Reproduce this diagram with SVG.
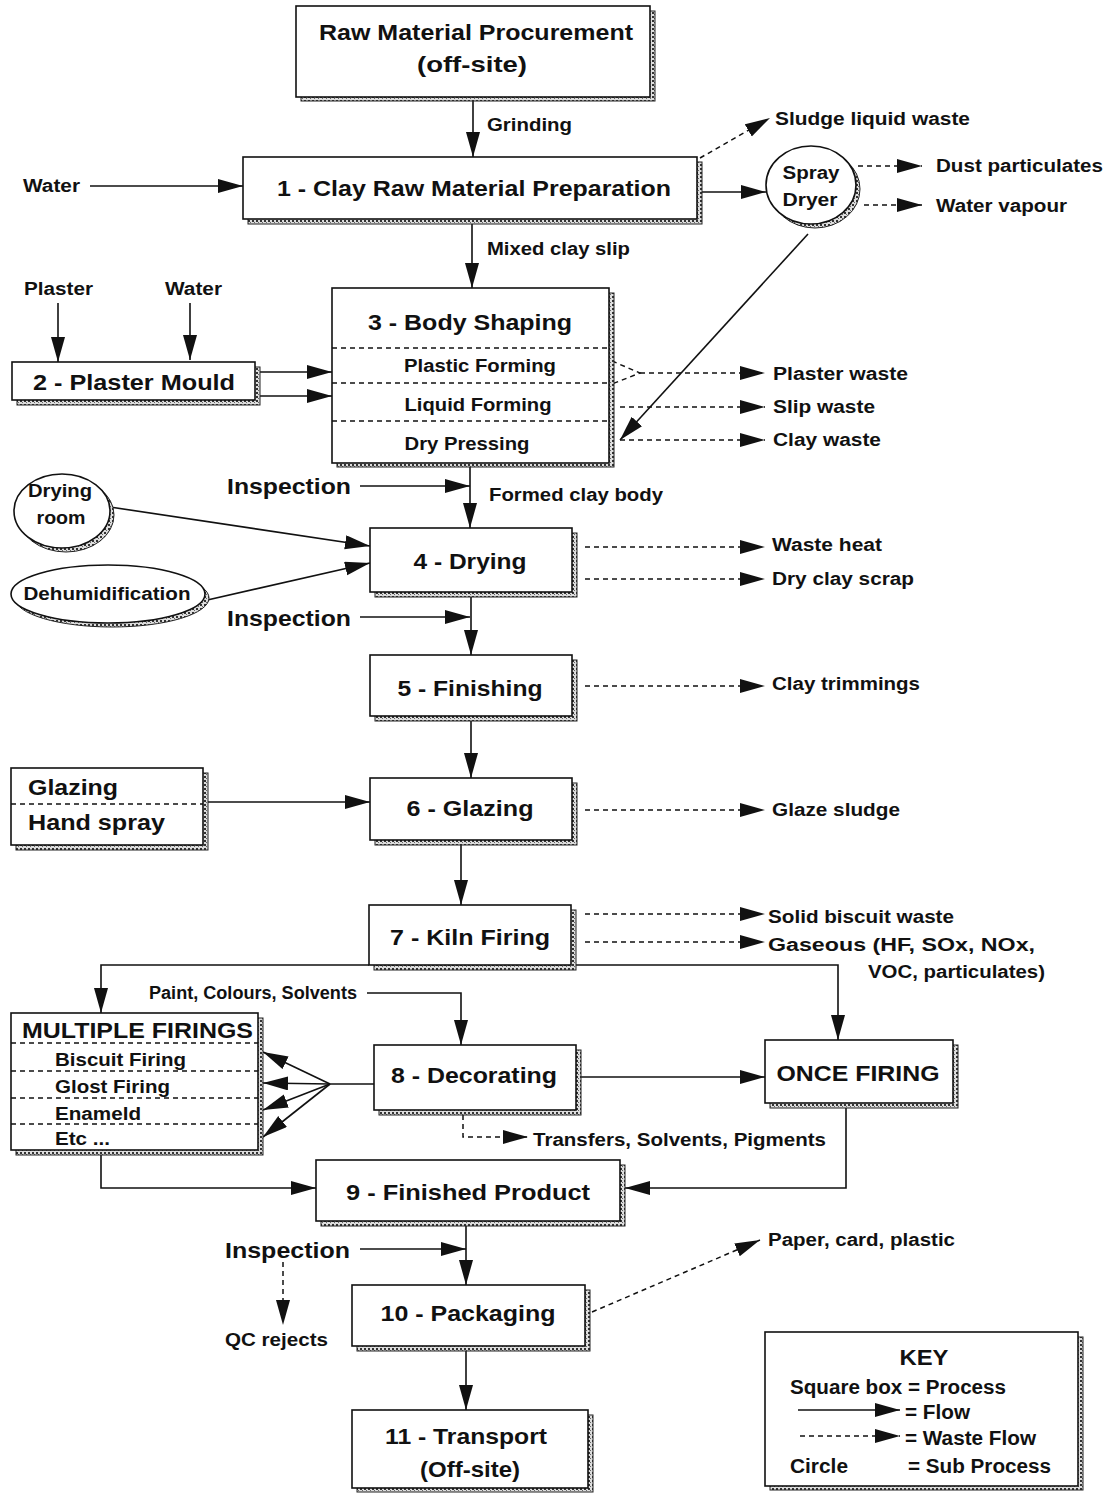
<svg xmlns="http://www.w3.org/2000/svg" width="1114" height="1494" viewBox="0 0 1114 1494">
<style>
.box{fill:#fff;stroke:#111;stroke-width:1.6}
.sh{fill:url(#tex);stroke:#222;stroke-width:1}
.ln{fill:none;stroke:#111;stroke-width:1.6}
.fl{fill:none;stroke:#111;stroke-width:1.6;marker-end:url(#ah)}
.wf{fill:none;stroke:#111;stroke-width:1.5;stroke-dasharray:5,4;marker-end:url(#ah)}
.dl{fill:none;stroke:#111;stroke-width:1.4;stroke-dasharray:5,4}
text{font-family:"Liberation Sans",Arial,sans-serif;font-weight:bold;fill:#111}
.t22{font-size:22px}
.t20{font-size:20px}
.t18{font-size:18px}
.mid{text-anchor:middle}
</style>
<defs>
<pattern id="tex" width="4" height="4" patternUnits="userSpaceOnUse">
<rect width="4" height="4" fill="#ddd"/>
<rect width="2" height="2" fill="#333"/>
<rect x="2" y="2" width="1" height="1" fill="#666"/>
</pattern>
<marker id="ah" markerUnits="userSpaceOnUse" markerWidth="28" markerHeight="16" refX="25" refY="7" orient="auto">
<path d="M0,0 L25,7 L0,14 z" fill="#111"/>
</marker>
</defs>
<rect width="1114" height="1494" fill="#fff"/>

<g id="connectors">
<path class="fl" d="M473,101 V157"/>
<path class="fl" d="M90,186 H243"/>
<path class="fl" d="M701,192 H766"/>
<path class="wf" d="M700,158 L770,118"/>
<path class="wf" d="M858,166 H922"/>
<path class="wf" d="M864,205 H922"/>
<path class="fl" d="M808,234 L620,440"/>
<path class="fl" d="M472,224 V288"/>
<path class="fl" d="M58,303 V362"/>
<path class="fl" d="M190,303 V360"/>
<path class="fl" d="M260,372 H332"/>
<path class="fl" d="M260,396 H332"/>
<path class="dl" d="M612,361 L640,373 L612,384"/>
<path class="wf" d="M640,373 H765"/>
<path class="wf" d="M620,407 H765"/>
<path class="wf" d="M620,440 H765"/>
<path class="fl" d="M360,486 H470"/>
<path class="fl" d="M470,467 V528"/>
<path class="fl" d="M110,507 L370,546"/>
<path class="fl" d="M203,601 L370,563"/>
<path class="wf" d="M585,547 H765"/>
<path class="wf" d="M585,579 H765"/>
<path class="fl" d="M360,617 H470"/>
<path class="fl" d="M471,597 V655"/>
<path class="wf" d="M585,686 H765"/>
<path class="fl" d="M471,721 V778"/>
<path class="fl" d="M208,802 H370"/>
<path class="wf" d="M585,810 H765"/>
<path class="fl" d="M461,845 V905"/>
<path class="wf" d="M585,914 H765"/>
<path class="wf" d="M585,942 H765"/>
<path class="fl" d="M369,965 H101 V1013"/>
<path class="fl" d="M576,965 H838 V1040"/>
<path class="fl" d="M367,993 H461 V1045"/>
<path class="ln" d="M374,1084 H330"/>
<path class="fl" d="M330,1084 L263,1052"/>
<path class="fl" d="M330,1084 L263,1083"/>
<path class="fl" d="M330,1084 L263,1110"/>
<path class="fl" d="M330,1084 L263,1137"/>
<path class="fl" d="M581,1077 H765"/>
<path class="wf" d="M463,1115 V1137 H528"/>
<path class="fl" d="M846,1108 V1188 H625"/>
<path class="fl" d="M101,1155 V1188 H316"/>
<path class="fl" d="M360,1249 H466"/>
<path class="fl" d="M466,1226 V1285"/>
<path class="wf" d="M283,1262 V1325"/>
<path class="wf" d="M592,1312 L760,1240"/>
<path class="fl" d="M466,1351 V1410"/>
</g>

<g id="raw-material">
<rect class="sh" x="301" y="11" width="354" height="90"/>
<rect class="box" x="296" y="6" width="354" height="91"/>
<text class="t22 mid" x="476" y="40" textLength="314" lengthAdjust="spacingAndGlyphs">Raw Material Procurement</text>
<text class="t22 mid" x="472" y="72" textLength="110" lengthAdjust="spacingAndGlyphs">(off-site)</text>
</g>
<text class="t18" x="487" y="131" textLength="85" lengthAdjust="spacingAndGlyphs">Grinding</text>
<text class="t18" x="23" y="192" textLength="57" lengthAdjust="spacingAndGlyphs">Water</text>

<g id="p1">
<rect class="sh" x="248" y="162" width="454" height="62"/>
<rect class="box" x="243" y="157" width="454" height="62"/>
<text class="t22 mid" x="474" y="196" textLength="394" lengthAdjust="spacingAndGlyphs">1 - Clay Raw Material Preparation</text>
</g>
<text class="t18" x="775" y="125" textLength="195" lengthAdjust="spacingAndGlyphs">Sludge liquid waste</text>

<g id="spray-dryer">
<ellipse class="sh" cx="815" cy="189" rx="45" ry="39"/>
<ellipse class="box" cx="811" cy="185" rx="45" ry="39"/>
<text class="t18 mid" x="811" y="179" textLength="57" lengthAdjust="spacingAndGlyphs">Spray</text>
<text class="t18 mid" x="810" y="206" textLength="55" lengthAdjust="spacingAndGlyphs">Dryer</text>
</g>
<text class="t18" x="936" y="172" textLength="167" lengthAdjust="spacingAndGlyphs">Dust particulates</text>
<text class="t18" x="936" y="212" textLength="131" lengthAdjust="spacingAndGlyphs">Water vapour</text>
<text class="t18" x="487" y="255" textLength="143" lengthAdjust="spacingAndGlyphs">Mixed clay slip</text>

<text class="t18" x="24" y="295" textLength="69" lengthAdjust="spacingAndGlyphs">Plaster</text>
<text class="t18" x="165" y="295" textLength="57" lengthAdjust="spacingAndGlyphs">Water</text>

<g id="p2">
<rect class="sh" x="17" y="367" width="243" height="38"/>
<rect class="box" x="12" y="362" width="243" height="38"/>
<text class="t22 mid" x="134" y="390" textLength="202" lengthAdjust="spacingAndGlyphs">2 - Plaster Mould</text>
</g>

<g id="p3">
<rect class="sh" x="337" y="293" width="277" height="174"/>
<rect class="box" x="332" y="288" width="277" height="175"/>
<path class="dl" d="M332,348 H609 M332,383 H609 M332,421 H609"/>
<text class="t22 mid" x="470" y="330" textLength="204" lengthAdjust="spacingAndGlyphs">3 - Body Shaping</text>
<text class="t18 mid" x="480" y="372" textLength="152" lengthAdjust="spacingAndGlyphs">Plastic Forming</text>
<text class="t18 mid" x="478" y="411" textLength="147" lengthAdjust="spacingAndGlyphs">Liquid Forming</text>
<text class="t18 mid" x="467" y="450" textLength="125" lengthAdjust="spacingAndGlyphs">Dry Pressing</text>
</g>
<text class="t18" x="773" y="380" textLength="135" lengthAdjust="spacingAndGlyphs">Plaster waste</text>
<text class="t18" x="773" y="413" textLength="102" lengthAdjust="spacingAndGlyphs">Slip waste</text>
<text class="t18" x="773" y="446" textLength="108" lengthAdjust="spacingAndGlyphs">Clay waste</text>

<text class="t22" x="227" y="494" textLength="124" lengthAdjust="spacingAndGlyphs">Inspection</text>
<text class="t18" x="489" y="501" textLength="174" lengthAdjust="spacingAndGlyphs">Formed clay body</text>

<g id="drying-room">
<ellipse class="sh" cx="66" cy="515" rx="48" ry="37"/>
<ellipse class="box" cx="62" cy="511" rx="48" ry="37"/>
<text class="t18 mid" x="60" y="497" textLength="64" lengthAdjust="spacingAndGlyphs">Drying</text>
<text class="t18 mid" x="61" y="524" textLength="49" lengthAdjust="spacingAndGlyphs">room</text>
</g>
<g id="dehumidification">
<ellipse class="sh" cx="112" cy="598" rx="97" ry="29"/>
<ellipse class="box" cx="108" cy="594" rx="97" ry="29"/>
<text class="t18 mid" x="107" y="600" textLength="167" lengthAdjust="spacingAndGlyphs">Dehumidification</text>
</g>

<g id="p4">
<rect class="sh" x="375" y="533" width="202" height="64"/>
<rect class="box" x="370" y="528" width="202" height="64"/>
<text class="t22 mid" x="470" y="569" textLength="113" lengthAdjust="spacingAndGlyphs">4 - Drying</text>
</g>
<text class="t18" x="772" y="551" textLength="110" lengthAdjust="spacingAndGlyphs">Waste heat</text>
<text class="t18" x="772" y="585" textLength="142" lengthAdjust="spacingAndGlyphs">Dry clay scrap</text>
<text class="t22" x="227" y="626" textLength="124" lengthAdjust="spacingAndGlyphs">Inspection</text>

<g id="p5">
<rect class="sh" x="375" y="660" width="202" height="61"/>
<rect class="box" x="370" y="655" width="202" height="61"/>
<text class="t22 mid" x="470" y="696" textLength="145" lengthAdjust="spacingAndGlyphs">5 - Finishing</text>
</g>
<text class="t18" x="772" y="690" textLength="148" lengthAdjust="spacingAndGlyphs">Clay trimmings</text>

<g id="glazing-hand-spray">
<rect class="sh" x="16" y="773" width="192" height="77"/>
<rect class="box" x="11" y="768" width="192" height="77"/>
<path class="dl" d="M11,804 H203"/>
<text class="t22" x="28" y="795" textLength="90" lengthAdjust="spacingAndGlyphs">Glazing</text>
<text class="t22" x="28" y="830" textLength="137" lengthAdjust="spacingAndGlyphs">Hand spray</text>
</g>

<g id="p6">
<rect class="sh" x="375" y="783" width="202" height="62"/>
<rect class="box" x="370" y="778" width="202" height="62"/>
<text class="t22 mid" x="470" y="816" textLength="127" lengthAdjust="spacingAndGlyphs">6 - Glazing</text>
</g>
<text class="t18" x="772" y="816" textLength="128" lengthAdjust="spacingAndGlyphs">Glaze sludge</text>

<g id="p7">
<rect class="sh" x="374" y="910" width="202" height="60"/>
<rect class="box" x="369" y="905" width="202" height="60"/>
<text class="t22 mid" x="470" y="945" textLength="160" lengthAdjust="spacingAndGlyphs">7 - Kiln Firing</text>
</g>
<text class="t18" x="768" y="923" textLength="186" lengthAdjust="spacingAndGlyphs">Solid biscuit waste</text>
<text class="t18" x="768" y="951" textLength="267" lengthAdjust="spacingAndGlyphs">Gaseous (HF, SOx, NOx,</text>
<text class="t18" x="868" y="978" textLength="177" lengthAdjust="spacingAndGlyphs">VOC, particulates)</text>
<text class="t18" x="149" y="999" textLength="208" lengthAdjust="spacingAndGlyphs">Paint, Colours, Solvents</text>

<g id="multiple-firings">
<rect class="sh" x="16" y="1018" width="247" height="137"/>
<rect class="box" x="11" y="1013" width="247" height="137"/>
<path class="dl" d="M11,1043 H258 M11,1071 H258 M11,1098 H258 M11,1124 H258"/>
<text class="t22" x="22" y="1038" textLength="231" lengthAdjust="spacingAndGlyphs">MULTIPLE FIRINGS</text>
<text class="t18" x="55" y="1066" textLength="131" lengthAdjust="spacingAndGlyphs">Biscuit Firing</text>
<text class="t18" x="55" y="1093" textLength="115" lengthAdjust="spacingAndGlyphs">Glost Firing</text>
<text class="t18" x="55" y="1120" textLength="86" lengthAdjust="spacingAndGlyphs">Enameld</text>
<text class="t18" x="55" y="1145" textLength="55" lengthAdjust="spacingAndGlyphs">Etc ...</text>
</g>

<g id="p8">
<rect class="sh" x="379" y="1050" width="202" height="65"/>
<rect class="box" x="374" y="1045" width="202" height="65"/>
<text class="t22 mid" x="474" y="1083" textLength="166" lengthAdjust="spacingAndGlyphs">8 - Decorating</text>
</g>

<g id="once-firing">
<rect class="sh" x="770" y="1045" width="188" height="63"/>
<rect class="box" x="765" y="1040" width="188" height="63"/>
<text class="t22 mid" x="858" y="1081" textLength="163" lengthAdjust="spacingAndGlyphs">ONCE FIRING</text>
</g>
<text class="t18" x="533" y="1146" textLength="293" lengthAdjust="spacingAndGlyphs">Transfers, Solvents, Pigments</text>

<g id="p9">
<rect class="sh" x="321" y="1165" width="304" height="61"/>
<rect class="box" x="316" y="1160" width="304" height="61"/>
<text class="t22 mid" x="468" y="1200" textLength="244" lengthAdjust="spacingAndGlyphs">9 - Finished Product</text>
</g>
<text class="t22" x="225" y="1258" textLength="125" lengthAdjust="spacingAndGlyphs">Inspection</text>
<text class="t18" x="768" y="1246" textLength="187" lengthAdjust="spacingAndGlyphs">Paper, card, plastic</text>
<text class="t18" x="225" y="1346" textLength="103" lengthAdjust="spacingAndGlyphs">QC rejects</text>

<g id="p10">
<rect class="sh" x="357" y="1290" width="233" height="61"/>
<rect class="box" x="352" y="1285" width="233" height="61"/>
<text class="t22 mid" x="468" y="1321" textLength="175" lengthAdjust="spacingAndGlyphs">10 - Packaging</text>
</g>

<g id="p11">
<rect class="sh" x="357" y="1415" width="236" height="77"/>
<rect class="box" x="352" y="1410" width="236" height="78"/>
<text class="t22 mid" x="466" y="1444" textLength="162" lengthAdjust="spacingAndGlyphs">11 - Transport</text>
<text class="t22 mid" x="470" y="1477" textLength="100" lengthAdjust="spacingAndGlyphs">(Off-site)</text>
</g>

<g id="key">
<rect class="sh" x="770" y="1337" width="313" height="153"/>
<rect class="box" x="765" y="1332" width="313" height="154"/>
<text class="t22 mid" x="924" y="1365" textLength="49" lengthAdjust="spacingAndGlyphs">KEY</text>
<text class="t20" x="790" y="1394" textLength="216" lengthAdjust="spacingAndGlyphs">Square box = Process</text>
<path class="fl" d="M798,1410 H900"/>
<text class="t20" x="905" y="1419" textLength="65" lengthAdjust="spacingAndGlyphs">= Flow</text>
<path class="wf" d="M800,1436 H900"/>
<text class="t20" x="905" y="1445" textLength="131" lengthAdjust="spacingAndGlyphs">= Waste Flow</text>
<text class="t20" x="790" y="1473" textLength="58" lengthAdjust="spacingAndGlyphs">Circle</text>
<text class="t20" x="908" y="1473" textLength="143" lengthAdjust="spacingAndGlyphs">= Sub Process</text>
</g>
</svg>
